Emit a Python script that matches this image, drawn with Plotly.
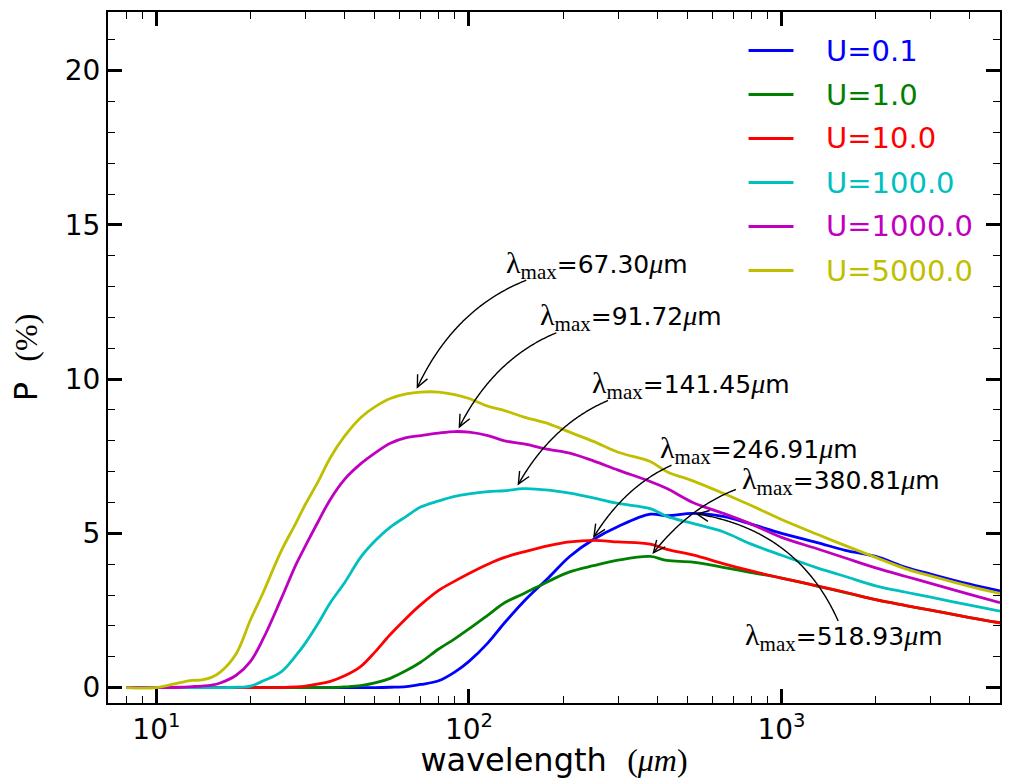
import numpy as np
import plotly.graph_objects as go

# ---------------- data ----------------
wavelength = [8, 10, 12, 13, 14, 15, 16, 18, 20, 22, 25, 28, 30, 33, 36, 40, 45, 50, 56, 63,
              70, 80, 90, 100, 115, 130, 150, 180, 210, 250, 300, 380, 430, 520, 650, 800,
              1000, 1300, 1600, 2000, 2500, 3000, 4000, 5000]

p_u0_1 = [0, 0, 0, 0, 0, 0, 0, 0, 0, 0, 0, 0, 0, 0, 0, 0, 0, 0, 0.01, 0.03,
          0.1, 0.22, 0.5, 0.85, 1.45, 2.1, 2.8, 3.57, 4.25, 4.8, 5.22, 5.62, 5.57, 5.65, 5.55, 5.3,
          5.0, 4.7, 4.45, 4.25, 3.9, 3.68, 3.35, 3.13]
p_u1 = [0, 0, 0, 0, 0, 0, 0, 0, 0, 0, 0, 0, 0, 0, 0, 0.02, 0.06, 0.15, 0.3, 0.55,
        0.82, 1.25, 1.58, 1.9, 2.35, 2.75, 3.05, 3.45, 3.75, 3.95, 4.13, 4.25, 4.12, 4.07, 3.9, 3.73,
        3.55, 3.29, 3.08, 2.85, 2.66, 2.51, 2.27, 2.1]
p_u10 = [0, 0, 0, 0, 0, 0, 0, 0, 0, 0, 0, 0.02, 0.05, 0.12, 0.2, 0.38, 0.68, 1.15, 1.72, 2.25,
         2.68, 3.15, 3.45, 3.7, 4.0, 4.22, 4.4, 4.6, 4.72, 4.77, 4.72, 4.65, 4.48, 4.3, 4.02, 3.78,
         3.55, 3.3, 3.09, 2.85, 2.66, 2.51, 2.27, 2.1]
p_u100 = [0, 0, 0, 0, 0, 0, 0, 0.01, 0.05, 0.22, 0.5, 1.05, 1.45, 2.1, 2.75, 3.4, 4.22, 4.75, 5.2, 5.55,
          5.85, 6.05, 6.2, 6.28, 6.35, 6.38, 6.45, 6.4, 6.3, 6.15, 5.97, 5.8, 5.55, 5.32, 5.05, 4.65,
          4.29, 3.88, 3.6, 3.3, 3.09, 2.93, 2.67, 2.48]
p_u1000 = [0, 0, 0.01, 0.03, 0.05, 0.08, 0.15, 0.4, 0.85, 1.6, 2.85, 4.0, 4.6, 5.4, 6.1, 6.75, 7.25, 7.6, 7.92, 8.1,
           8.17, 8.25, 8.3, 8.28, 8.17, 8.0, 7.9, 7.72, 7.6, 7.35, 7.05, 6.68, 6.45, 6.0, 5.65, 5.3,
           4.87, 4.5, 4.2, 3.88, 3.6, 3.38, 3.02, 2.75]
p_u5000 = [0, 0, 0.17, 0.23, 0.25, 0.33, 0.5, 1.1, 2.2, 3.1, 4.4, 5.35, 5.95, 6.7, 7.45, 8.15, 8.75, 9.1, 9.37, 9.52,
           9.58, 9.58, 9.5, 9.37, 9.12, 8.98, 8.77, 8.55, 8.28, 7.98, 7.63, 7.33, 7.0, 6.7, 6.3, 5.9,
           5.45, 4.97, 4.6, 4.22, 3.85, 3.62, 3.28, 3.05]

series_labels = ["U=0.1", "U=1.0", "U=10.0", "U=100.0", "U=1000.0", "U=5000.0"]
series_values = [p_u0_1, p_u1, p_u10, p_u100, p_u1000, p_u5000]
series_colors = ["#0000ff", "#008000", "#ff0000", "#00bfbf", "#bf00bf", "#bfbf00"]

# peak annotations
lam_max = [67.30, 91.72, 141.45, 246.91, 380.81, 518.93]
p_at_max = [9.58, 8.31, 6.46, 4.77, 4.25, 5.65]
label_pos_x = [257, 330, 515, 845, 1550, 1590]     # text centre (wavelength)
label_pos_y = [13.7, 12.0, 9.8, 7.7, 6.7, 1.65]    # text centre (P %)

x_tick_vals = [10, 100, 1000]
x_tick_text = ["10<sup>1</sup>", "10<sup>2</sup>", "10<sup>3</sup>"]
x_minor_vals = [8, 9, 20, 30, 40, 50, 60, 70, 80, 90, 200, 300, 400, 500, 600, 700, 800, 900,
                2000, 3000, 4000]

# ---------------- geometry ----------------
W, H = 1009, 779
ML, MR, MT, MB = 108, 7, 12, 76
PW, PH = W - ML - MR, H - MT - MB
X_RANGE = [np.log10(7.0), np.log10(5000.0)]
Y_RANGE = [-0.5, 21.9]

SANS = "DejaVu Sans"
SERIF = "Liberation Serif"


def data_to_px(x, y):
    px = ML + (np.log10(x) - X_RANGE[0]) / (X_RANGE[1] - X_RANGE[0]) * PW
    py = MT + (Y_RANGE[1] - y) / (Y_RANGE[1] - Y_RANGE[0]) * PH
    return px, py


def px_to_paper(px, py):
    return (px - ML) / PW, (MT + PH - py) / PH


fig = go.Figure()
for lab, vals, col in zip(series_labels, series_values, series_colors):
    fig.add_trace(go.Scatter(x=wavelength, y=vals, mode="lines", name=lab,
                             line=dict(color=col, width=2.8, shape="spline", smoothing=1.0),
                             showlegend=False))

shapes = []
annotations = []

# ---------------- legend (drawn manually) ----------------
for i, (lab, col) in enumerate(zip(series_labels, series_colors)):
    row_py = 50.5 + 44 * i
    x0, yy = px_to_paper(750, row_py)
    x1, _ = px_to_paper(795, row_py)
    shapes.append(dict(type="line", xref="paper", yref="paper", x0=x0, x1=x1, y0=yy, y1=yy,
                       line=dict(color=col, width=2.8)))
    tx, _ = px_to_paper(826, row_py)
    annotations.append(dict(xref="paper", yref="paper", x=tx, y=yy, text=lab, showarrow=False,
                            xanchor="left", yanchor="middle",
                            font=dict(family=SANS, size=29, color=col)))

# ---------------- peak annotations with curved arrows ----------------
RAD = 0.3
for lm, pm, tx, ty in zip(lam_max, p_at_max, label_pos_x, label_pos_y):
    num = "%.2f" % lm
    text = ("<span style='font-family:%s;font-size:30px'>λ</span>"
            "<span style='font-family:%s;font-size:30px'><sub>max</sub></span>=%s"
            "<span style='font-family:%s;font-size:28px'><i>μ</i></span>m") % (SERIF, SERIF, num, SERIF)
    annotations.append(dict(xref="x", yref="y", x=np.log10(tx), y=ty, text=text, showarrow=False,
                            xanchor="center", yanchor="middle",
                            font=dict(family=SANS, size=25, color="black")))
    cx0, cy0 = data_to_px(tx, ty)
    ex, ey = data_to_px(lm, pm)
    dx, dy = ex - cx0, ey - cy0
    mx, my = (cx0 + ex) / 2, (cy0 + ey) / 2
    ccx, ccy = mx - RAD * dy, my + RAD * dx
    half_w = 92 + 9.5 * (len(num) - 5) + 3
    half_h = 15
    t = np.linspace(0, 1, 200)
    bx = (1 - t) ** 2 * cx0 + 2 * t * (1 - t) * ccx + t ** 2 * ex
    by = (1 - t) ** 2 * cy0 + 2 * t * (1 - t) * ccy + t ** 2 * ey
    outside = (np.abs(bx - cx0) > half_w) | (np.abs(by - cy0) > half_h)
    near_tip = np.hypot(bx - ex, by - ey) < 4
    keep = outside & ~near_tip
    pts = [px_to_paper(a, b) for a, b in zip(bx[keep], by[keep])]
    path = "M " + " L ".join("%.5f,%.5f" % p for p in pts)
    shapes.append(dict(type="path", xref="paper", yref="paper", path=path,
                       line=dict(color="black", width=1.4)))
    # arrow head (open V)
    tipx, tipy = bx[keep][-1], by[keep][-1]
    vx, vy = tipx - bx[keep][-4], tipy - by[keep][-4]
    n = np.hypot(vx, vy)
    ux, uy = vx / n, vy / n
    L, Wd = 12, 5.5
    a1 = (tipx - L * ux + Wd * uy, tipy - L * uy - Wd * ux)
    a2 = (tipx - L * ux - Wd * uy, tipy - L * uy + Wd * ux)
    hp = [px_to_paper(*a1), px_to_paper(tipx, tipy), px_to_paper(*a2)]
    shapes.append(dict(type="path", xref="paper", yref="paper",
                       path="M %.5f,%.5f L %.5f,%.5f L %.5f,%.5f" % (hp[0] + hp[1] + hp[2]),
                       line=dict(color="black", width=1.4)))

axis_common = dict(showline=True, linecolor="black", linewidth=2, mirror="allticks",
                   ticks="inside", ticklen=14, tickwidth=2.5, tickcolor="black",
                   showgrid=False, zeroline=False,
                   tickfont=dict(family=SANS, size=28, color="black"))

fig.update_layout(
    width=W, height=H,
    margin=dict(l=ML, r=MR, t=MT, b=MB, pad=0),
    paper_bgcolor="white", plot_bgcolor="white",
    shapes=shapes, annotations=annotations,
    showlegend=False,
    xaxis=dict(type="log", range=X_RANGE, tickmode="array", tickvals=x_tick_vals,
               ticktext=x_tick_text,
               minor=dict(tickmode="array", tickvals=x_minor_vals, ticks="inside", ticklen=7,
                          tickwidth=1.2, tickcolor="black", showgrid=False),
               title=dict(text="wavelength  <span style='font-family:%s'>(<i>μm</i>)</span>" % SERIF,
                          font=dict(family=SANS, size=32, color="black"), standoff=2),
               **axis_common),
    yaxis=dict(range=Y_RANGE, tickmode="linear", tick0=0, dtick=5,
               minor=dict(dtick=1, ticks="inside", ticklen=7, tickwidth=1.2, tickcolor="black",
                          showgrid=False),
               title=dict(text="P  <span style='font-family:%s'>(%%)</span>" % SERIF,
                          font=dict(family=SANS, size=32, color="black"), standoff=18),
               **axis_common),
)

fig.write_html("out.html")
